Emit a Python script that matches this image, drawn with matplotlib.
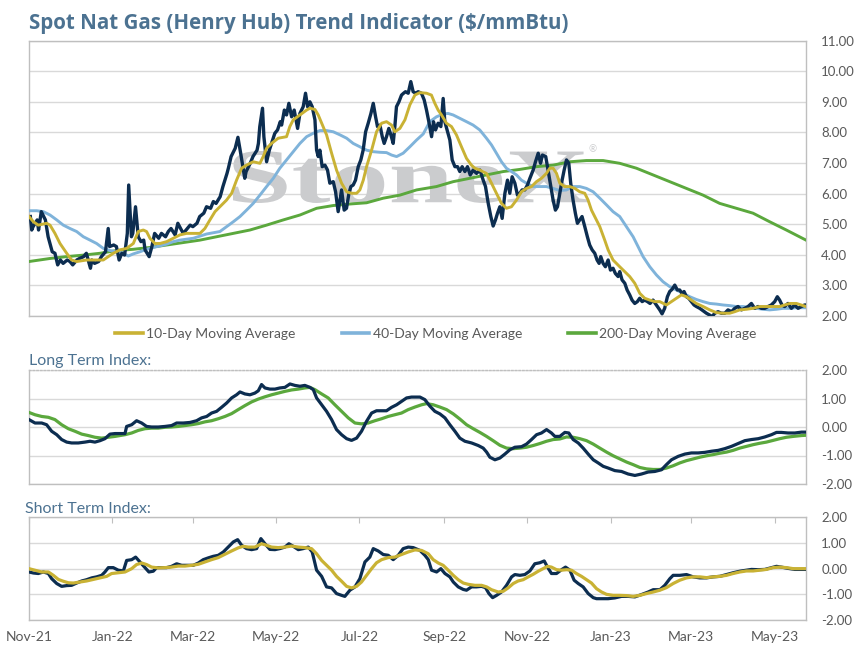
import numpy as np
import pandas as pd
import matplotlib
matplotlib.use("Agg")
import matplotlib.pyplot as plt
import matplotlib.dates as mdates
from matplotlib.lines import Line2D
from matplotlib.textpath import TextPath
from matplotlib.patches import PathPatch
from matplotlib.font_manager import FontProperties
from matplotlib.transforms import Affine2D

plt.rcParams['font.family'] = ['Lato', 'DejaVu Sans']

# x values are calendar days counted from 2021-11-01
start_date = pd.Timestamp('2021-11-01')
end_day = 569

# Spot Henry Hub price ($/mmBtu)
spot_day = [1, 2, 3, 6, 7, 9, 12, 14, 17, 19, 21, 23, 25, 28, 30, 32, 35, 37, 40, 42,
            45, 46, 48, 51, 53, 56, 58, 59, 62, 64, 66, 68, 70, 72, 73, 75, 76, 78, 80, 82,
            84, 85, 88, 90, 92, 95, 97, 100, 102, 104, 107, 109, 111, 113, 115, 118, 120, 123, 125, 128,
            130, 133, 135, 137, 140, 142, 145, 146, 148, 151, 153, 155, 158, 159, 162, 164, 167, 168, 169, 171,
            172, 174, 176, 178, 180, 182, 184, 185, 187,
            188.6, 190.3, 192.3, 194.2, 196.7, 198.4, 200.8, 202.5, 204.0, 205.7, 207.4, 209.4, 210.6, 211.8,
            213.0, 214.7, 216.7, 218.6, 220.3, 222.8, 224.5, 226.4, 227.7, 228.9, 230.8, 232.5, 234.3, 235.7,
            237.4, 239.1, 241.1, 243.0, 244.7, 246.5, 248.4, 250.4, 252.1, 253.8, 255.2, 257.0, 258.7, 260.1,
            261.8, 263.5, 265.0, 266.7, 267.9, 269.1, 270.9, 272.8, 274.3, 275.7, 277.7, 279.6, 281.3, 283.1,
            285.0, 287.4, 289.4, 291.1, 292.8, 294.8, 296.2, 297.7, 299.6, 301.6, 303.3, 304.5, 306.5, 308.2,
            309.9, 311.9, 313.8, 315.5, 317.2, 319.2, 321.1, 323.1, 325.3, 327.7, 330.2, 332.6, 334.3, 336.3,
            338.2, 339.9, 341.6, 343.1, 344.8, 346.5, 348.5, 350.4, 352.1, 353.8, 355.8, 357.7, 359.4, 361.1,
            363.1, 365.0, 366.8, 369.2, 370.9, 372.9, 374.6, 376.0,
            378.4, 380.1, 382.1, 383.8, 385.5, 387.0, 388.7, 390.4, 391.9, 393.6, 395.3, 396.7, 398.4, 400.1,
            401.6, 403.3, 405.0, 407.0, 408.9, 410.6, 412.4, 414.3, 416.0, 417.5, 418.7, 420.4, 422.1, 424.1,
            425.8, 427.7, 429.4, 431.4, 432.6, 434.3, 436.3, 438.0, 439.9, 441.6, 443.6, 445.5, 447.2, 449.0,
            450.9, 452.9, 454.8, 457.0, 459.4, 461.9, 463.6, 465.5, 467.5, 469.2, 470.9, 472.9, 474.8, 476.5,
            478.2, 479.7, 481.4, 483.1, 485.1, 487.0, 488.7, 491.2, 493.6, 496.1, 498.5, 500.2, 502.2, 504.6,
            507.0, 509.5, 511.9, 514.4, 516.8, 519.2, 521.7, 524.1, 526.6, 529.0, 531.4, 533.9, 536.3, 538.8,
            541.2, 543.6, 546.1, 548.0, 549.7, 551.4, 553.4, 555.8, 558.3, 560.7, 563.2, 565.6, 568.0, 569.0]
spot_val = [5.25, 4.81, 4.92, 5.14, 4.81, 5.41, 5.14, 4.59, 4.10, 4.05, 3.67, 3.83, 3.72, 3.83, 3.78, 3.67, 3.83, 3.88, 3.94, 4.05,
            3.56, 3.83, 3.72, 3.78, 3.94, 4.10, 4.86, 4.27, 4.32, 4.27, 3.83, 4.05, 3.99, 4.70, 6.28, 4.59, 4.70, 5.57, 4.59, 4.43,
            4.48, 4.16, 3.94, 4.27, 4.70, 4.54, 4.70, 4.59, 4.76, 4.86, 4.65, 5.03, 4.86, 4.70, 4.81, 4.97, 4.92, 5.03, 5.25, 5.36,
            5.57, 5.52, 5.74, 5.68, 5.90, 6.23, 6.66, 6.83, 7.21, 7.48, 7.84, 7.32, 6.50, 6.72, 6.99, 7.21, 7.42, 7.64, 8.19, 8.79,
            7.86, 7.04, 7.42, 7.70, 7.97, 8.08, 8.35, 8.24, 8.73,
            8.57, 8.95, 8.51, 8.73, 8.13, 8.62, 8.84, 9.28, 8.84, 9.00, 8.84, 8.41, 7.42, 7.21,
            7.42, 6.88, 6.93, 6.77, 6.34, 6.39, 6.06, 5.41, 5.79, 6.12, 5.46, 5.52, 6.01, 6.23,
            6.28, 6.44, 6.88, 7.10, 7.42, 8.02, 8.30, 8.62, 8.95, 8.51, 8.19, 8.24, 7.86, 7.64,
            7.86, 8.13, 7.92, 7.64, 8.19, 8.84, 9.00, 9.22, 9.28, 9.33, 9.28, 9.66, 9.33, 9.28,
            9.33, 9.28, 9.06, 8.73, 8.35, 7.86, 8.35, 8.08, 8.30, 8.19, 9.11, 8.35, 8.02, 7.75,
            7.10, 6.88, 6.88, 6.72, 6.88, 6.72, 6.88, 6.61, 6.77, 6.66, 6.77, 6.44, 6.23, 5.68,
            5.25, 4.94, 5.14, 5.36, 5.57, 5.19, 6.01, 6.44, 6.01, 6.55, 6.34, 5.95, 6.01, 6.12,
            6.12, 6.28, 6.50, 6.77, 7.04, 7.32, 6.99, 7.26,
            7.21, 6.77, 6.23, 5.79, 5.46, 5.57, 6.01, 6.44, 6.77, 7.10, 6.99, 6.34, 5.79, 5.36,
            5.03, 5.14, 5.25, 4.92, 4.59, 4.32, 4.16, 4.05, 3.83, 3.72, 3.94, 3.72, 3.61, 3.83,
            3.50, 3.56, 3.39, 3.29, 3.45, 3.18, 3.07, 2.85, 2.69, 2.52, 2.41, 2.47, 2.58, 2.47,
            2.52, 2.47, 2.41, 2.52, 2.36, 2.20, 2.07, 2.25, 2.63, 2.80, 2.87, 3.01, 2.85, 2.85,
            2.74, 2.80, 2.63, 2.58, 2.47, 2.36, 2.31, 2.25, 2.17, 2.09, 2.03, 1.98, 2.09, 2.14,
            2.09, 2.09, 2.20, 2.14, 2.25, 2.31, 2.20, 2.25, 2.31, 2.41, 2.25, 2.31, 2.25, 2.25,
            2.31, 2.36, 2.47, 2.63, 2.52, 2.36, 2.31, 2.41, 2.25, 2.36, 2.25, 2.31, 2.36, 2.36]

# 10-day moving average
ma10_day = [0, 3.2, 6.8, 12.9, 15.4, 19, 22.7, 27.6, 31.2, 34.9, 42.2, 49.5, 54.4, 58, 61.7, 66.6, 71.5, 76.4,
            80, 83.7, 86.1, 88.6, 92.2, 95.9, 100.8, 105.7, 110.5, 115.4, 120.3, 125.2, 128.8, 132.5, 136.2,
            139.8, 144.7, 148.4, 152, 155.7, 159.3, 164.2, 169.1, 171.5, 174, 177.6, 182.5, 188.6, 191, 193.5,
            198.4, 203.3, 205.7, 209.4, 211.8, 214.3, 217.9, 221.6, 225.2, 228.9, 232.6, 236.2, 239.9, 242.3,
            244.8, 247.2, 250.9, 254.5, 258.2, 261.8, 265.5, 267.9, 271.6, 275.3, 278.9, 282.6, 286.2, 291.1,
            294.7, 297.2, 299.6, 302.1, 305.7, 309.4, 313, 316.7, 320.4, 324, 326.5, 330.1, 335, 338.7, 342.3,
            346, 349.6, 353.3, 357, 360.6, 364.3, 368, 371.6, 375.3, 378.9, 381.4, 383.8, 386.3, 388.7, 392.3,
            396, 399.7, 403.3, 407, 409.4, 411.9, 414.3, 418, 421.6, 424.1, 427.7, 432.6, 436.3, 439.9, 443.6,
            447.3, 450.9, 454.6, 458.2, 461.9, 466.8, 470.4, 474.1, 477.8, 481.4, 485.1, 488.7, 493.6, 498.5,
            503.4, 508.3, 513.1, 516.8, 520.5, 525.3, 530.2, 535.1, 540, 544.9, 549.7, 553.4, 557.1, 562,
            565.6, 569]
ma10_val = [5.25, 5.08, 4.97, 5.03, 4.97, 4.70, 4.37, 4.05, 3.83, 3.78, 3.83, 3.83, 3.83, 3.94, 4.05, 4.16, 4.21, 4.37,
            4.76, 4.81, 4.76, 4.54, 4.37, 4.37, 4.43, 4.54, 4.65, 4.70, 4.70, 4.70, 4.86, 5.14, 5.41,
            5.57, 5.79, 6.01, 6.44, 6.83, 6.93, 7.04, 6.99, 7.21, 7.48, 7.64, 7.81, 7.86, 8.19, 8.41,
            8.57, 8.73, 8.79, 8.75, 8.57, 8.30, 7.92, 7.32, 6.77, 6.34, 6.06, 6.01, 6.01, 6.12,
            6.44, 6.88, 7.42, 8.02, 8.30, 8.35, 8.24, 8.02, 8.13, 8.41, 8.90, 9.22, 9.30, 9.28,
            9.22, 8.95, 8.73, 8.57, 8.30, 8.19, 7.92, 7.53, 7.15, 6.93, 6.83, 6.77, 6.66, 6.34, 6.01,
            5.68, 5.52, 5.57, 5.79, 6.06, 6.17, 6.23, 6.39, 6.50, 6.66, 6.83, 6.83, 6.66, 6.34, 6.23,
            6.23, 6.17, 6.06, 6.01, 5.79, 5.46, 5.25, 4.92, 4.48, 4.16, 3.83, 3.61, 3.45, 3.29, 3.07,
            2.74, 2.58, 2.52, 2.47, 2.47, 2.36, 2.47, 2.58, 2.69, 2.63, 2.52, 2.41, 2.31, 2.20,
            2.11, 2.09, 2.09, 2.14, 2.20, 2.22, 2.25, 2.31, 2.31, 2.31, 2.31, 2.36, 2.41, 2.41,
            2.36, 2.31]

# 40-day moving average
ma40_day = [0, 5.6, 10.5, 15.4, 20.3, 25.1, 30, 34.9, 39.8, 44.7, 49.5, 54.4, 59.3, 64.2, 69.1, 72.7, 76.4,
            81.3, 86.1, 91, 95.9, 100.8, 105.7, 110.5, 115.4, 120.3, 125.2, 130.1, 134.9, 139.8, 144.7, 149.6,
            154.5, 159.3, 164.2, 169.1, 174, 178.9, 183.7, 188.6, 193.5, 198.4, 203.3, 208.1, 213, 217.9, 222.8,
            227.7, 232.6, 237.4, 242.3, 247.2, 252.1, 257, 261.8, 265.5, 269.2, 274, 278.9, 283.8, 288.7,
            293.5, 298.4, 303.3, 306.9, 310.6, 315.5, 320.4, 325.2, 330.1, 335, 338.7, 342.3, 346, 349.6,
            353.3, 357, 360.6, 364.3, 369.2, 374.1, 378.9, 383.8, 388.7, 393.6, 398.4, 403.3, 408.2, 413.1,
            418, 422.9, 427.7, 432.6, 437.5, 442.4, 446, 449.7, 454.6, 459.5, 464.3, 469.2, 474.1, 479,
            483.9, 488.7, 493.6, 498.5, 503.4, 508.3, 513.1, 518, 522.9, 527.8, 532.7, 537.5, 542.4, 547.3,
            552.2, 557.1, 561.9, 569]
ma40_val = [5.44, 5.44, 5.41, 5.30, 5.14, 4.97, 4.86, 4.76, 4.59, 4.48, 4.37, 4.21, 4.14, 4.10, 4.05, 3.96, 4.03,
            4.10, 4.18, 4.24, 4.29, 4.35, 4.43, 4.48, 4.51, 4.54, 4.61, 4.68, 4.72, 4.76, 4.92, 5.08,
            5.25, 5.46, 5.68, 5.95, 6.23, 6.50, 6.83, 7.10, 7.37, 7.64, 7.86, 7.97, 8.06, 8.06, 8.02,
            7.92, 7.81, 7.64, 7.53, 7.42, 7.37, 7.35, 7.34, 7.26, 7.21, 7.32, 7.53, 7.75, 7.95,
            8.35, 8.51, 8.60, 8.62, 8.57, 8.46, 8.35, 8.24, 8.08, 7.81, 7.59, 7.32, 7.04, 6.83,
            6.72, 6.61, 6.44, 6.34, 6.23, 6.23, 6.23, 6.17, 6.10, 6.12, 6.23, 6.23, 6.17, 6.06,
            5.85, 5.63, 5.41, 5.25, 4.92, 4.59, 4.27, 3.94, 3.61, 3.34, 3.12, 2.96, 2.85, 2.74,
            2.63, 2.54, 2.47, 2.41, 2.39, 2.36, 2.34, 2.31, 2.31, 2.28, 2.25, 2.22, 2.20, 2.22,
            2.25, 2.25, 2.27, 2.27]

# 200-day moving average
ma200_day = [0, 15.4, 27.6, 39.8, 52, 64.2, 76.4, 88.6, 100.8, 113, 125.2, 137.4, 149.6, 161.8, 174, 186.2,
             198.4, 210.6, 222.8, 235, 247.2, 259.4, 271.6, 283.8, 298.4, 310.6, 322.8, 335, 347.2, 359.4,
             371.6, 383.8, 396, 408.2, 420.4, 432.6, 444.8, 457, 469.2, 481.4, 493.6, 505.8, 518, 530.2,
             542.4, 554.6, 569]
ma200_val = [3.78, 3.88, 3.94, 3.99, 4.05, 4.14, 4.18, 4.24, 4.32, 4.40, 4.48, 4.59, 4.70, 4.81, 4.97, 5.14,
             5.30, 5.52, 5.61, 5.66, 5.70, 5.85, 5.95, 6.12, 6.23, 6.39, 6.50, 6.61, 6.72, 6.79,
             6.88, 6.93, 7.04, 7.08, 7.08, 6.99, 6.83, 6.61, 6.39, 6.17, 5.95, 5.68, 5.52, 5.36,
             5.08, 4.81, 4.48]

# Long term index and its signal line
lt_idx_day = [0, 4.4, 9.3, 12.9, 16.6, 20.3, 23.9, 27.6, 31.2, 36.1, 41, 44.7, 48.3, 52, 55.6, 59.3, 63,
              67.8, 70.3, 71.5, 75.2, 78.8, 82.5, 86.1, 89.8, 94.7, 99.6, 104.4, 108.1, 113, 117.9, 122.7,
              126.4, 130.1, 133.7, 137.4, 141, 144.7, 148.4, 152, 154.5, 158.1, 161.8, 165.4, 167.9, 170.3,
              172.8, 176.4, 180.1, 183.7, 187.4, 191.1, 194.7, 198.4, 202, 205.7, 208.2, 210.6, 214.3, 217.9,
              221.6, 225.2, 228.9, 232.6, 236.2, 239.9, 243.5, 247.2, 250.9, 254.5, 258.2, 261.8, 265.5, 269.2,
              272.8, 276.5, 280.1, 284, 286.3, 289.9, 293.6, 297.2, 300.9, 304.6, 308.2, 311.9, 315.5, 319.2,
              324.1, 329, 332.6, 335.1, 337.5, 341.2, 344.8, 348.5, 352.1, 355.8, 360.7, 364.3, 368, 371.7,
              375.3, 379, 382.6, 385.1, 388.7, 392.4, 395.3, 398.5, 402.2, 405.8, 409.5, 413.2, 416.8, 420.5,
              424.1, 429, 433.9, 438.8, 443.7, 448.5, 453.4, 458.3, 463.2, 466.8, 470.5, 475.4, 480.3, 485.1,
              490, 494.9, 499.8, 504.7, 509.5, 514.4, 519.3, 524.2, 529.1, 534, 538.8, 543.7, 547.4, 551,
              555.9, 560.8, 565.7, 569]
lt_idx_val = [0.26, 0.14, 0.14, 0.08, -0.15, -0.27, -0.44, -0.53, -0.56, -0.56, -0.53, -0.50, -0.53, -0.48, -0.41, -0.25, -0.23,
              -0.23, -0.23, 0.02, 0.08, 0.22, 0.14, 0.02, 0.00, 0.00, 0.02, 0.05, 0.14, 0.14, 0.16, 0.22,
              0.32, 0.37, 0.49, 0.55, 0.69, 0.84, 1.02, 1.13, 1.23, 1.16, 1.13, 1.19, 1.27, 1.49,
              1.37, 1.33, 1.33, 1.37, 1.39, 1.51, 1.46, 1.43, 1.46, 1.39, 1.31, 1.02, 0.78, 0.55,
              0.26, -0.09, -0.27, -0.41, -0.47, -0.39, -0.15, 0.20, 0.49, 0.57, 0.57, 0.57, 0.69, 0.78,
              0.90, 1.02, 1.05, 1.05, 1.05, 0.96, 0.73, 0.55, 0.46, 0.32, 0.08, -0.15, -0.39, -0.50,
              -0.56, -0.65, -0.74, -0.88, -1.06, -1.15, -1.09, -0.95, -0.80, -0.71, -0.69, -0.60, -0.44, -0.27,
              -0.21, -0.09, -0.21, -0.33, -0.33, -0.19, -0.21, -0.44, -0.56, -0.74, -0.95, -1.15, -1.26, -1.38,
              -1.44, -1.53, -1.56, -1.65, -1.70, -1.65, -1.58, -1.56, -1.50, -1.32, -1.15, -1.03, -0.95, -0.91,
              -0.91, -0.89, -0.85, -0.82, -0.76, -0.68, -0.58, -0.48, -0.44, -0.41, -0.35, -0.27, -0.19, -0.19,
              -0.21, -0.21, -0.18, -0.18]
lt_sig_day = [0, 4.4, 9.3, 14.2, 19, 23.9, 28.8, 33.7, 38.6, 43.4, 48.3, 53.2, 58.1, 63, 70.3, 75.2, 80,
              84.9, 89.8, 94.7, 99.6, 104.4, 109.3, 114.2, 119.1, 124, 128.8, 133.7, 138.6, 143.5, 148.4, 153.2,
              158.1, 163, 167.9, 172.8, 177.6, 182.5, 187.4, 192.3, 197.2, 202, 205.7, 209.4, 214.3, 219.1,
              224, 228.9, 233.8, 238.7, 243.5, 248.4, 253.3, 258.2, 263, 267.9, 272.8, 277.7, 282.6, 287.5,
              291.1, 296, 300.9, 305.8, 310.7, 315.5, 320.4, 325.3, 330.2, 335.1, 339.9, 344.8, 349.7, 354.6,
              359.5, 364.3, 369.2, 374.1, 379, 383.9, 388.7, 393.6, 398.5, 403.4, 408.3, 413.2, 418, 422.9,
              427.8, 432.7, 437.6, 442.4, 447.3, 452.2, 457.1, 462, 466.8, 471.7, 476.6, 481.5, 486.4, 491.2,
              496.1, 501, 505.9, 510.8, 515.6, 520.5, 525.4, 530.3, 535.2, 540, 544.9, 549.8, 554.7, 559.6,
              565.7, 569]
lt_sig_val = [0.51, 0.43, 0.37, 0.34, 0.26, 0.08, -0.06, -0.15, -0.25, -0.30, -0.36, -0.39, -0.36, -0.33, -0.27, -0.21, -0.12,
              -0.06, -0.04, -0.04, -0.01, 0.00, 0.02, 0.05, 0.08, 0.12, 0.18, 0.22, 0.29, 0.37, 0.47, 0.61,
              0.75, 0.88, 0.98, 1.06, 1.13, 1.19, 1.25, 1.30, 1.33, 1.37, 1.39, 1.31, 1.16, 1.02,
              0.78, 0.55, 0.32, 0.14, 0.11, 0.14, 0.22, 0.29, 0.37, 0.43, 0.49, 0.61, 0.70, 0.78,
              0.82, 0.78, 0.70, 0.61, 0.46, 0.28, 0.08, -0.06, -0.19, -0.33, -0.48, -0.64, -0.74, -0.76,
              -0.74, -0.71, -0.65, -0.58, -0.50, -0.44, -0.42, -0.35, -0.36, -0.41, -0.48, -0.60, -0.74, -0.88,
              -1.01, -1.12, -1.23, -1.32, -1.42, -1.47, -1.49, -1.49, -1.44, -1.36, -1.26, -1.18, -1.12, -1.06,
              -1.01, -0.97, -0.92, -0.88, -0.82, -0.74, -0.68, -0.62, -0.57, -0.53, -0.47, -0.41, -0.36, -0.33,
              -0.30, -0.29]

# Short term index and its signal line
st_idx_day = [0, 3.2, 6.8, 10.5, 14.2, 16.6, 20.3, 23.9, 27.6, 31.2, 34.9, 38.6, 42.2, 45.9, 49.5, 53.2, 55.6,
              58.1, 61.7, 65.4, 69.1, 71.5, 75.2, 78.1, 81.3, 84.9, 87.8, 91, 93.5, 97.1, 100.8, 104.4, 108.1,
              111.8, 116.6, 120.3, 124, 127.6, 131.3, 134.9, 138.6, 142.3, 145.9, 149.6, 152.8, 155.7, 159.3,
              163, 166.7, 169.8, 172.8, 176.4, 180.1, 183.7, 187.4, 190.3, 193.5, 197.2, 200.8, 204.5, 207.4,
              210.6, 214.3, 217.9, 221.6, 225.2, 228.9, 231.3, 235, 238.7, 242.3, 246, 249.6, 252.1, 255.7,
              259.4, 263.1, 266.7, 270.4, 274, 277.7, 281.4, 284, 286.3, 289.9, 292.4, 294.8, 298.5, 301.6,
              304.6, 308.2, 310.7, 314.3, 318, 320.4, 324.1, 327.7, 331.4, 334.3, 336.8, 339.5, 342.4, 346,
              349.7, 353.4, 355.8, 359.5, 363.1, 366.8, 370.4, 374.1, 377.3, 379.7, 382.6, 386.3, 390, 392.9,
              396.1, 399.2, 402.2, 405.8, 409.5, 413.2, 415.6, 419.3, 424.1, 429, 433.9, 438.8, 443.7, 448.5,
              453.4, 457.1, 462, 465.6, 469.3, 471.7, 476.6, 481.5, 486.4, 491.2, 496.1, 501, 505.9, 510.8,
              515.6, 520.5, 525.4, 529.1, 533.9, 538.8, 543.7, 547.4, 551, 555.9, 560.8, 565.7, 569]
st_idx_val = [-0.13, -0.17, -0.19, -0.13, -0.19, -0.39, -0.58, -0.69, -0.66, -0.65, -0.56, -0.48, -0.43, -0.36, -0.32, -0.26, -0.13,
              0.04, 0.04, -0.06, -0.09, 0.32, 0.35, 0.45, 0.26, 0.04, -0.13, -0.10, 0.04, 0.04, 0.04, 0.09, 0.19,
              0.13, 0.13, 0.13, 0.22, 0.35, 0.42, 0.48, 0.52, 0.65, 0.84, 1.04, 1.13, 0.91, 0.78,
              0.74, 0.78, 1.17, 0.97, 0.75, 0.74, 0.78, 0.84, 0.97, 0.87, 0.74, 0.78, 0.84, 0.65,
              -0.06, -0.30, -0.71, -0.75, -0.97, -1.04, -1.08, -0.84, -0.71, -0.39, 0.26, 0.45, 0.78, 0.69,
              0.55, 0.52, 0.35, 0.52, 0.78, 0.84, 0.82, 0.76, 0.71, 0.52, 0.35, -0.06, -0.13, 0.00,
              -0.19, -0.32, -0.52, -0.71, -0.81, -0.84, -0.71, -0.71, -0.69, -0.74, -0.97, -1.13, -1.04, -0.91,
              -0.65, -0.32, -0.23, -0.26, -0.23, -0.09, 0.19, 0.23, 0.30, 0.06, -0.19, -0.19, -0.04, 0.06,
              -0.06, -0.45, -0.58, -0.71, -0.97, -1.13, -1.17, -1.17, -1.17, -1.14, -1.08, -1.08, -1.10, -1.01,
              -0.91, -0.82, -0.82, -0.65, -0.39, -0.26, -0.26, -0.23, -0.32, -0.36, -0.36, -0.32, -0.30, -0.23,
              -0.16, -0.10, -0.06, -0.03, -0.04, -0.03, 0.04, 0.09, 0.06, 0.01, -0.03, -0.03, -0.03]
st_sig_day = [0, 4.4, 9.3, 14.2, 17.8, 21.5, 25.1, 28.8, 32.5, 37.3, 42.2, 47.1, 52, 56.9, 60.5, 65.4, 70.3,
              75.2, 78.8, 82.5, 86.1, 89.8, 94.7, 99.6, 104.4, 109.3, 114.2, 119.1, 124, 128.8, 133.7, 138.6,
              143.5, 148.4, 153.2, 156.9, 160.6, 165.4, 170.3, 174, 177.6, 182.5, 187.4, 192.3, 197.2, 202,
              206.9, 210.6, 214.3, 217.9, 221.6, 225.2, 228.9, 232.6, 236.2, 239.9, 243.5, 247.2, 250.9, 254.5,
              258.2, 263, 267.9, 272.8, 277.7, 282.6, 287.5, 292.4, 296, 299.7, 303.3, 307, 310.7, 314.3, 318,
              321.6, 326.5, 331.4, 335.1, 338.7, 343.6, 347.3, 350.9, 354.6, 358.2, 361.9, 365.6, 369.2, 372.9,
              376.5, 379.7, 382.6, 386.3, 390, 393.6, 397.3, 400.9, 404.6, 408.3, 411.9, 415.6, 419.3, 422.9,
              427.8, 432.7, 437.6, 442.4, 447.3, 452.2, 457.1, 462, 466.8, 471.7, 476.6, 481.5, 486.4, 491.2,
              496.1, 501, 505.9, 510.8, 515.6, 520.5, 525.4, 530.3, 535.2, 540, 544.9, 549.8, 554.7, 559.6,
              565.7, 569]
st_sig_val = [0.00, -0.06, -0.13, -0.13, -0.26, -0.42, -0.49, -0.55, -0.56, -0.52, -0.48, -0.42, -0.36, -0.30, -0.19, -0.16, -0.13,
              0.00, 0.16, 0.22, 0.16, 0.06, 0.03, 0.04, 0.06, 0.10, 0.10, 0.13, 0.17, 0.26, 0.35, 0.43,
              0.56, 0.69, 0.81, 0.87, 0.84, 0.84, 0.97, 0.91, 0.84, 0.82, 0.84, 0.88, 0.84, 0.82,
              0.78, 0.58, 0.32, 0.13, -0.06, -0.30, -0.49, -0.69, -0.75, -0.69, -0.52, -0.26, 0.00, 0.23,
              0.35, 0.43, 0.45, 0.55, 0.65, 0.73, 0.71, 0.58, 0.35, 0.22, 0.13, -0.06, -0.26, -0.43, -0.56,
              -0.61, -0.65, -0.65, -0.71, -0.82, -0.91, -0.88, -0.75, -0.58, -0.48, -0.43, -0.32, -0.22, -0.10,
              0.00, 0.09, 0.06, -0.04, -0.06, -0.04, -0.06, -0.19, -0.30, -0.43, -0.56, -0.78, -0.91, -1.00,
              -1.04, -1.04, -1.05, -1.08, -1.04, -0.97, -0.91, -0.84, -0.74, -0.58, -0.45, -0.36, -0.32, -0.32,
              -0.35, -0.32, -0.30, -0.26, -0.19, -0.13, -0.09, -0.09, -0.06, -0.03, 0.04, 0.06, 0.04, 0.00,
              0.00, 0.00]

title = 'Spot Nat Gas (Henry Hub) Trend Indicator ($/mmBtu)'
legend_labels = ['10-Day Moving Average', '40-Day Moving Average', '200-Day Moving Average']
month_ticks = [1, 3, 5, 7, 9, 11]

navy = '#0c2d50'
gold = '#c9b234'
lblue = '#7fb3da'
green = '#5ba83d'
title_c = '#4c7291'
text_c = '#595959'
grid_c = '#d9d9d9'
frame_c = '#bfbfbf'


def dates(days):
    return start_date + pd.to_timedelta(np.asarray(days, dtype=float), unit='D')


W, H = 867, 649
fig = plt.figure(figsize=(W / 100, H / 100), dpi=100)


def box(left, top, right, bottom):
    return [left / W, 1 - bottom / H, (right - left) / W, (bottom - top) / H]


ax1 = fig.add_axes(box(29, 40.6, 806, 316))
ax2 = fig.add_axes(box(29, 370, 806, 484))
ax3 = fig.add_axes(box(29, 517.3, 806, 620))

for ax in (ax1, ax2, ax3):
    ax.set_xlim(start_date, start_date + pd.Timedelta(days=end_day))
    ax.yaxis.tick_right()
    ax.yaxis.set_major_formatter(matplotlib.ticker.FormatStrFormatter('%.2f'))
    ax.tick_params(axis='y', length=0, pad=11, labelsize=9.5, labelcolor=text_c)
    ax.grid(axis='y', color=grid_c, linewidth=1)
    ax.set_axisbelow(True)
    for s in ax.spines.values():
        s.set_color(frame_c)
        s.set_linewidth(1)
    ax.xaxis.set_major_locator(mdates.MonthLocator(bymonth=month_ticks))
    ax.xaxis.set_major_formatter(mdates.DateFormatter('%b-%y'))

# top panel
ax1.set_ylim(2, 11)
ax1.set_yticks(np.arange(2, 12, 1))
ax1.tick_params(axis='x', bottom=False, labelbottom=False)
ax1.plot(dates(ma200_day), ma200_val, color=green, lw=2.1, zorder=3)
ax1.plot(dates(ma40_day), ma40_val, color=lblue, lw=2.1, zorder=4)
ax1.plot(dates(spot_day), spot_val, color=navy, lw=2.4, zorder=5, solid_joinstyle='round')
ax1.plot(dates(ma10_day), ma10_val, color=gold, lw=2.1, zorder=6)

# watermark
fp = FontProperties(family='Liberation Serif', weight='bold')
tp = TextPath((0, 0), 'StoneX', size=1, prop=fp)
bb = tp.get_extents()
wx0, wx1, wy0, wy1 = 233 / W, 588 / W, 1 - 203 / H, 1 - 151 / H
tr = (Affine2D().translate(-bb.x0, -bb.y0)
      .scale((wx1 - wx0) / bb.width, (wy1 - wy0) / bb.height)
      .translate(wx0, wy0) + fig.transFigure)
ax1.add_patch(PathPatch(tp, transform=tr, facecolor='#cbccce', edgecolor='none', zorder=1))
fig.text(593 / W, 1 - 150 / H, '\u00ae', fontsize=7, color='#cbccce', ha='center', va='center')

# legend
handles = [Line2D([], [], color=c, lw=2.6) for c in (gold, lblue, green)]
fig.legend(handles, legend_labels, loc='center', bbox_to_anchor=(436 / W, 1 - 334 / H), ncol=3,
           frameon=False, fontsize=10, handlelength=2.0, handletextpad=0.25, columnspacing=3.3,
           labelcolor=text_c)

# long term panel
ax2.set_ylim(-2, 2)
ax2.set_yticks([-2, -1, 0, 1, 2])
ax2.tick_params(axis='x', bottom=False, labelbottom=False)
ax2.spines['top'].set_linestyle(':')
ax2.plot(dates(lt_sig_day), lt_sig_val, color=green, lw=2.3, zorder=3)
ax2.plot(dates(lt_idx_day), lt_idx_val, color=navy, lw=2.3, zorder=4)

# short term panel
ax3.set_ylim(-2, 2)
ax3.set_yticks([-2, -1, 0, 1, 2])
ax3.tick_params(axis='x', bottom=False, top=True, direction='in', length=4, color=frame_c,
                labelbottom=True, labeltop=False, labelsize=10, labelcolor=text_c, pad=8)
ax3.plot(dates(st_idx_day), st_idx_val, color=navy, lw=2.3, zorder=3)
ax3.plot(dates(st_sig_day), st_sig_val, color=gold, lw=2.3, zorder=4)

# titles
fig.text(29 / W, 1 - 23 / H, title, ha='left', va='center', fontsize=14.8,
         fontweight='bold', color=title_c, family=['Open Sans', 'DejaVu Sans'])
fig.text(29 / W, 1 - 361 / H, 'Long Term Index:', ha='left', va='center', fontsize=11.5, color=title_c)
fig.text(25 / W, 1 - 509 / H, 'Short Term Index:', ha='left', va='center', fontsize=11.5, color=title_c)

fig.savefig('out.png', dpi=100)
